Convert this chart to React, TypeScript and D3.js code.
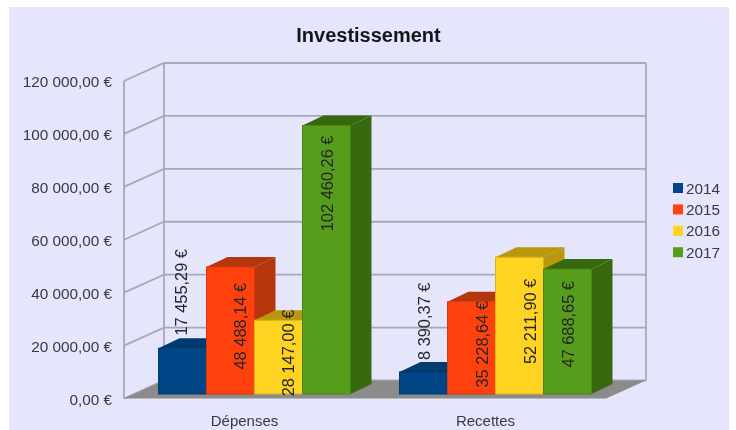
import React from "react";
import * as d3 from "d3";

const title = "Investissement";
const categories = ["Dépenses", "Recettes"];
const years = ["2014", "2015", "2016", "2017"];
const values2014 = [17455.29, 8390.37];
const values2015 = [48488.14, 35228.64];
const values2016 = [28147.0, 52211.9];
const values2017 = [102460.26, 47688.65];
const seriesValues = [values2014, values2015, values2016, values2017];
const valueLabels = [
  ["17 455,29 €", "8 390,37 €"],
  ["48 488,14 €", "35 228,64 €"],
  ["28 147,00 €", "52 211,90 €"],
  ["102 460,26 €", "47 688,65 €"],
];
const tickValues = [0, 20000, 40000, 60000, 80000, 100000, 120000];
const tickLabels = ["0,00 €", "20 000,00 €", "40 000,00 €", "60 000,00 €", "80 000,00 €", "100 000,00 €", "120 000,00 €"];
const frontColors = ["#004586", "#ff420e", "#ffd320", "#579d1c"];
const darkColors = ["#003a6e", "#b5360c", "#b8980f", "#39680f"];
const edgeColors = ["#003a70", "#d9380c", "#d8b31a", "#4a8518"];

// Layout of the pseudo 3D box
const W = 736, H = 430;
const left = 124, right = 606, depthX = 40, depthY = 18;
const barDX = 21, barDY = 10, barShiftX = 10;
// Label placement relative to each bar, as the reference places them (per series, per category)
const labelDX = [[-1.5, 0], [9.5, 10], [9.5, 10.5], [0, 0]];
const labelDY = [[-55, -50], [61, 44], [34, 66], [61, 57]];

const y = d3.scaleLinear().domain([0, 120000]).range([398.5, 81]);
const yBar = d3.scaleLinear().domain([0, 120000]).range([394, 79.6]);
const xCat = d3.scaleBand<string>().domain(categories).range([left + barShiftX, right + barShiftX]);
const xBar = d3.scaleBand<string>().domain(years).range([0, 192]);

const font = "'Liberation Sans', Arial, sans-serif";
const textColor = "#383846";
const grid = "#a8a8b6";

export default function App() {
  const floor = [[left, y(0)], [right, y(0)], [right + depthX, y(0) - depthY], [left + depthX, y(0) - depthY]];
  const pts = (p: number[][]) => p.map((q) => q.join(",")).join(" ");
  const barBase = yBar(0);
  return (
    <svg width={W} height={H} viewBox={`0 0 ${W} ${H}`} style={{ position: "fixed", left: 0, top: 0, display: "block", background: "#fff" }}>
      <defs>
        <filter id="soft" x="0" y="0" width="100%" height="100%">
          <feGaussianBlur stdDeviation="0.6" />
        </filter>
      </defs>
      <rect x={9} y={7} width={720} height={423} fill="#e5e5fb" />
      <g filter="url(#soft)">
        <text x={368.5} y={42} textAnchor="middle" fontFamily={font} fontWeight="bold" fontSize={20} fill="#16161c">{title}</text>

        {tickValues.map((v) => (
          <polyline key={v} fill="none" stroke={grid} strokeWidth={1.8}
            points={pts([[left, y(v)], [left + depthX, y(v) - depthY], [right + depthX, y(v) - depthY]])} />
        ))}
        <line x1={left} x2={left} y1={y(0)} y2={y(120000)} stroke={grid} strokeWidth={1.8} />
        <line x1={left + depthX} x2={left + depthX} y1={y(0) - depthY} y2={y(120000) - depthY} stroke={grid} strokeWidth={1.8} />
        <line x1={right + depthX} x2={right + depthX} y1={y(0) - depthY} y2={y(120000) - depthY} stroke={grid} strokeWidth={1.8} />
        <polygon points={pts(floor)} fill="#8b8b8b" />

        {tickValues.map((v, i) => (
          <text key={v} x={112} y={y(v) + 6} textAnchor="end" fontFamily={font} fontSize={15.3} fill={textColor}>{tickLabels[i]}</text>
        ))}

        {categories.map((c, ci) => {
          const cx = xCat(c)! + xCat.bandwidth() / 2;
          const x0 = cx - 96;
          return (
            <g key={c}>
              {years.map((yr, si) => {
                const a = x0 + xBar(yr)!;
                const b = a + xBar.bandwidth();
                const top = yBar(seriesValues[si][ci]);
                return (
                  <g key={yr}>
                    <polygon points={pts([[b, top], [b + barDX, top - barDY], [b + barDX, barBase - barDY], [b, barBase]])} fill={darkColors[si]} />
                    <polygon points={pts([[a, top], [b, top], [b + barDX, top - barDY], [a + barDX, top - barDY]])} fill={darkColors[si]} />
                    <rect x={a} y={top} width={b - a} height={barBase - top} fill={frontColors[si]} stroke={edgeColors[si]} strokeWidth={1} />
                  </g>
                );
              })}
              <text x={cx - 10} y={426} textAnchor="middle" fontFamily={font} fontSize={15} fill={textColor}>{c}</text>
            </g>
          );
        })}

        {categories.map((c, ci) => {
          const cx = xCat(c)! + xCat.bandwidth() / 2;
          const x0 = cx - 96;
          return years.map((yr, si) => {
            const lx = x0 + xBar(yr)! + xBar.bandwidth() / 2 + labelDX[si][ci];
            const ly = y(seriesValues[si][ci]) - 5 + labelDY[si][ci];
            return (
              <text key={yr} transform={`translate(${lx},${ly}) rotate(-90)`} textAnchor="middle" dominantBaseline="central" fontFamily={font} fontSize={16.4} fill="#26262a">
                {valueLabels[si][ci]}
              </text>
            );
          });
        })}

        {years.map((yr, i) => (
          <g key={yr}>
            <rect x={673} y={183 + i * 21.4} width={10} height={10} fill={frontColors[i]} />
            <text x={686} y={193.5 + i * 21.4} fontFamily={font} fontSize={15.3} fill={textColor}>{yr}</text>
          </g>
        ))}
      </g>
    </svg>
  );
}
